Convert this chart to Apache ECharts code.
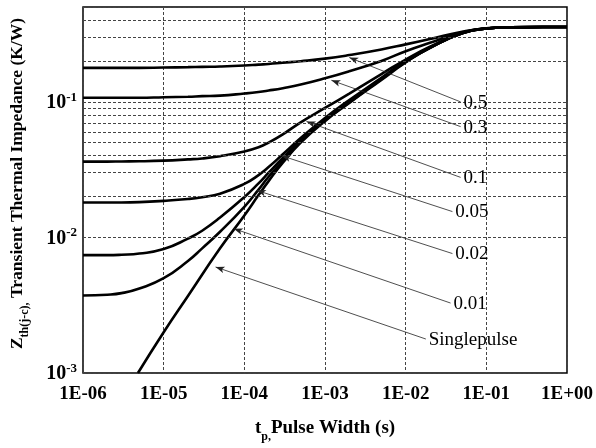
<!DOCTYPE html>
<html><head><meta charset="utf-8">
<script src="https://cdn.jsdelivr.net/npm/echarts@6/dist/echarts.min.js"></script>
<style>html,body{margin:0;padding:0;background:#fff}#c{width:596px;height:448px}</style>
</head><body><div id="c"></div>
<script>
// pulse width sample points (s)
const tGrid = [1e-6, 2e-6, 3e-6, 5e-6, 1e-5, 2e-5, 3e-5, 5e-5, 1e-4, 1.5e-4, 2e-4, 3e-4, 5e-4, 1e-3, 2e-3, 5e-3, 1e-2, 2e-2, 5e-2, 1e-1, 2e-1, 5e-1, 1];
// Zth (K/W) for each duty cycle
const zD050 = [0.178, 0.178, 0.178, 0.178, 0.179, 0.180, 0.181, 0.182, 0.185, 0.188, 0.190, 0.194, 0.199, 0.208, 0.221, 0.243, 0.265, 0.290, 0.328, 0.348, 0.354, 0.356, 0.356];
const zD030 = [0.107, 0.107, 0.107, 0.107, 0.108, 0.109, 0.110, 0.111, 0.115, 0.118, 0.121, 0.126, 0.134, 0.149, 0.168, 0.200, 0.236, 0.272, 0.325, 0.348, 0.354, 0.356, 0.356];
const zD010 = [0.0362, 0.0362, 0.0363, 0.0364, 0.0368, 0.0376, 0.0382, 0.0397, 0.0430, 0.0462, 0.0500, 0.0575, 0.0705, 0.090, 0.115, 0.160, 0.205, 0.255, 0.322, 0.347, 0.354, 0.356, 0.356];
const zD005 = [0.0181, 0.0181, 0.0181, 0.0182, 0.0186, 0.0192, 0.0198, 0.0210, 0.0248, 0.0288, 0.033, 0.0410, 0.054, 0.076, 0.103, 0.150, 0.200, 0.252, 0.320, 0.347, 0.354, 0.356, 0.356];
const zD002 = [0.0074, 0.0074, 0.00745, 0.0076, 0.0082, 0.0098, 0.0112, 0.0140, 0.0198, 0.0250, 0.030, 0.0385, 0.052, 0.074, 0.100, 0.148, 0.198, 0.250, 0.320, 0.347, 0.354, 0.356, 0.356];
const zD001 = [0.00373, 0.00378, 0.00388, 0.0042, 0.0050, 0.0067, 0.0083, 0.0110, 0.0168, 0.0225, 0.028, 0.0365, 0.051, 0.073, 0.099, 0.147, 0.197, 0.250, 0.320, 0.347, 0.354, 0.356, 0.356];
// single pulse
const tSingle = [4.8e-6, 1e-5, 2e-5, 5e-5, 1e-4, 1.5e-4, 2e-4, 3e-4, 5e-4, 1e-3, 2e-3, 5e-3, 1e-2, 2e-2, 5e-2, 1e-1, 2e-1, 5e-1, 1];
const zSingle = [0.001, 0.002, 0.0037, 0.0083, 0.0145, 0.0205, 0.026, 0.0355, 0.050, 0.072, 0.098, 0.145, 0.195, 0.250, 0.320, 0.347, 0.354, 0.356, 0.356];

const curveNames = ['0.5', '0.3', '0.1', '0.05', '0.02', '0.01', 'Singlepulse'];
// annotation arrows: tip on the curve, and where the label sits
const arrowTips = [[2.0e-3, 0.212], [1.2e-3, 0.144], [5.9e-4, 0.0715], [2.9e-4, 0.0400], [1.43e-4, 0.0222], [7.4e-5, 0.0116], [4.4e-5, 0.00605]];
const labelPoints = [[0.048, 0.0998], [0.048, 0.0656], [0.048, 0.0277], [0.038, 0.0155], [0.038, 0.0076], [0.036, 0.00328], [0.0178, 0.00178]];

const xMin = 1e-6, xMax = 1;
const yMin = 1e-3, yMax = 0.5;
const yMinorGrid = [0.002, 0.003, 0.004, 0.005, 0.006, 0.007, 0.008, 0.009,
  0.02, 0.03, 0.04, 0.05, 0.06, 0.07, 0.08, 0.09, 0.2, 0.3, 0.4];

const curves = [
  [tGrid, zD050], [tGrid, zD030], [tGrid, zD010], [tGrid, zD005],
  [tGrid, zD002], [tGrid, zD001], [tSingle, zSingle]
];

const serif = 'Liberation Serif';
const series = curves.map(function (c, i) {
  return {
    name: curveNames[i],
    type: 'line',
    data: c[0].map(function (t, k) { return [t, c[1][k]]; }),
    showSymbol: false,
    smooth: 0.5,
    clip: true,
    z: 3,
    lineStyle: { color: '#000', width: 2.6 },
    markLine: {
      silent: true,
      animation: false,
      symbol: ['arrow', 'none'],
      symbolSize: [5, 9],
      lineStyle: { color: '#222', width: 0.8, type: 'solid' },
      itemStyle: { color: '#000' },
      label: { show: true, position: 'end', distance: 3, formatter: curveNames[i],
        fontFamily: serif, fontSize: 19, color: '#000' },
      data: [[{ coord: arrowTips[i] }, { coord: labelPoints[i] }]]
    }
  };
});
series.push({
  type: 'line', data: [[xMin, yMin]], showSymbol: false, silent: true,
  lineStyle: { opacity: 0 }, z: 1,
  markLine: {
    silent: true, animation: false, symbol: ['none', 'none'],
    lineStyle: { color: '#444', width: 1, type: [3, 2] },
    label: { show: false },
    data: yMinorGrid.map(function (v) { return { yAxis: v }; })
  }
});

function xLabel(v) {
  const e = Math.round(Math.log10(v));
  const s = e < 0 ? '-' : '+';
  const a = Math.abs(e);
  return '1E' + s + (a < 10 ? '0' : '') + a;
}
function yLabel(v) {
  const e = Math.round(Math.log10(v));
  return '{b|10}{sup|' + e + '}';
}

const chart = echarts.init(document.getElementById('c'), null, { renderer: 'canvas' });
chart.setOption({
  animation: false,
  backgroundColor: '#fff',
  grid: { left: 80, right: 29, top: 7, bottom: 75, show: true, borderColor: '#000', borderWidth: 1.5, backgroundColor: 'transparent' },
  xAxis: {
    type: 'log', logBase: 10, min: xMin, max: xMax, interval: 1,
    axisLine: { show: false }, axisTick: { show: false },
    splitLine: { show: true, lineStyle: { color: '#444', width: 1, type: [3, 2] } },
    axisLabel: { formatter: xLabel, fontFamily: serif, fontWeight: 'bold', fontSize: 19, color: '#000', margin: 12 },
    name: '{a|t}{sub|p,}{a|Pulse Width (s)}',
    nameLocation: 'middle', nameGap: 46,
    nameTextStyle: {
      rich: {
        a: { fontFamily: serif, fontWeight: 'bold', fontSize: 19, color: '#000', padding: [0, 0, 5, 0], verticalAlign: 'bottom' },
        sub: { fontFamily: serif, fontWeight: 'bold', fontSize: 12, color: '#000', verticalAlign: 'bottom' }
      }
    }
  },
  yAxis: {
    type: 'log', logBase: 10, min: yMin, max: yMax, interval: 1,
    axisLine: { show: false }, axisTick: { show: false },
    splitLine: { show: true, lineStyle: { color: '#444', width: 1, type: [3, 2] } },
    axisLabel: {
      formatter: yLabel, showMaxLabel: false, margin: 6,
      rich: {
        b: { fontFamily: serif, fontWeight: 'bold', fontSize: 20, color: '#000', verticalAlign: 'bottom' },
        sup: { fontFamily: serif, fontWeight: 'bold', fontSize: 13, color: '#000', verticalAlign: 'bottom', padding: [0, 0, 9, 0] }
      }
    },
    name: '{z|Z}{sub|th(j-c),}{m| Transient Thermal Impedance (K/W)}',
    nameLocation: 'middle', nameRotate: 90, nameGap: 52,
    nameTextStyle: {
      padding: [0, 0, 0, 13],
      rich: {
        z: { fontFamily: serif, fontWeight: 'bold', fontSize: 17.5, color: '#000', padding: [0, 0, 5, 0], verticalAlign: 'bottom' },
        m: { fontFamily: serif, fontWeight: 'bold', fontSize: 17.5, color: '#000', padding: [0, 0, 5, 0], verticalAlign: 'bottom' },
        sub: { fontFamily: serif, fontWeight: 'bold', fontSize: 12, color: '#000', verticalAlign: 'bottom' }
      }
    }
  },
  series: series
});
</script></body></html>
